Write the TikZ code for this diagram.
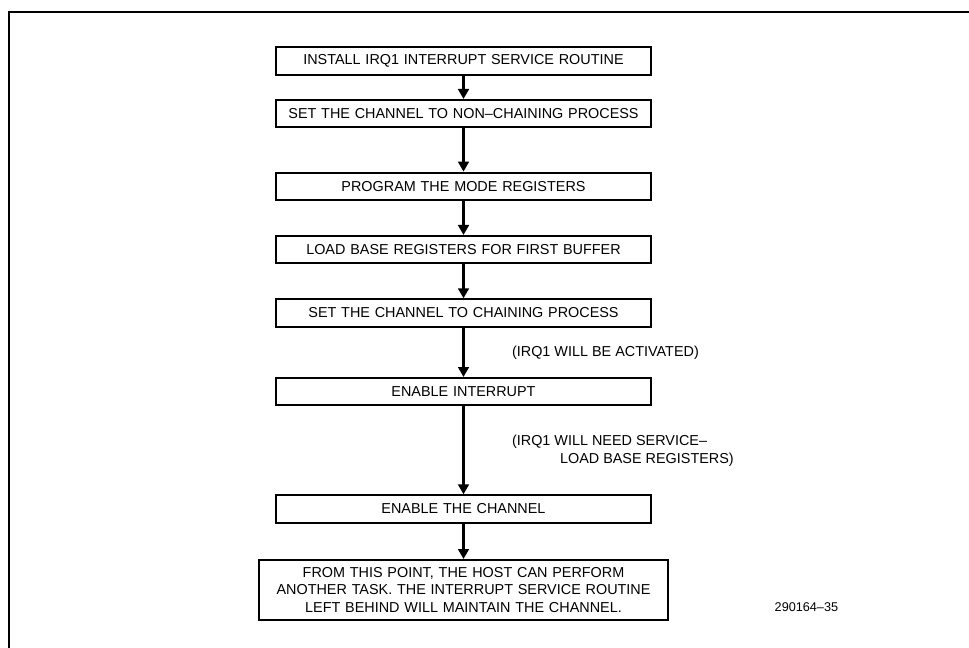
\documentclass[tikz,border=0pt]{standalone}
\usepackage{fontspec}
\setmainfont{Liberation Sans}
\usetikzlibrary{arrows.meta, positioning}

\begin{document}
\begin{tikzpicture}[
		x=0.75pt, y=-0.75pt,
		block/.style={
			draw,
			line width=1.5pt,
			align=center,
			text width=275pt,
			inner xsep=3pt,
			inner ysep=0pt,
			minimum height=20.5pt,
			font=\fontsize{10.8}{12.5}\selectfont
		},
		note/.style={align=left, font=\fontsize{10.8}{13.5}\selectfont},
		arrow/.style={-{Triangle[length=7.5pt, width=8pt]}, line width=2.2pt}
		]
		
		\useasboundingbox (0,0) rectangle (969,648);
		\draw[line width=1pt] (969,12) -| (9,648);
		
		\node[block] (install) at (463.5,61)
		{INSTALL IRQ1 INTERRUPT SERVICE ROUTINE};
		
		\node[block, below=17.5pt of install] (nonchain)
		{SET THE CHANNEL TO NON--CHAINING PROCESS};
		
		\node[block, below=32.5pt of nonchain] (mode)
		{PROGRAM THE MODE REGISTERS};
		
		\node[block, below=25.5pt of mode] (base)
		{LOAD BASE REGISTERS FOR FIRST BUFFER};
		
		\node[block, below=25.5pt of base] (chain)
		{SET THE CHANNEL TO CHAINING PROCESS};
		
		\node[block, below=37pt of chain] (intr)
		{ENABLE INTERRUPT};
		
		\node[block, below=66pt of intr] (enable)
		{ENABLE THE CHANNEL};
		
		\node[block, below=26.5pt of enable, text width=301pt, minimum height=45pt,
		      font=\fontsize{10.8}{13}\selectfont] (host)
		{FROM THIS POINT, THE HOST CAN PERFORM\\
		 ANOTHER TASK. THE INTERRUPT SERVICE ROUTINE\\
		 LEFT BEHIND WILL MAINTAIN THE CHANNEL.};
		
		\node[font=\fontsize{9.5}{11}\selectfont, anchor=west] (figno) at (770,607) {290164--35};
		
		\draw[arrow] (install) -- (nonchain);
		\draw[arrow] (nonchain) -- (mode);
		\draw[arrow] (mode) -- (base);
		\draw[arrow] (base) -- (chain);
		\draw[arrow] (chain) -- node[note, midway, anchor=west, xshift=32pt] (irqon)
		{(IRQ1 WILL BE ACTIVATED)} (intr);
		\draw[arrow] (intr) -- node[note, midway, anchor=west, xshift=32pt] (irqsvc)
		{(IRQ1 WILL NEED SERVICE--\\\hspace*{36pt}LOAD BASE REGISTERS)} (enable);
		\draw[arrow] (enable) -- (host);
		
	\end{tikzpicture}
\end{document}
